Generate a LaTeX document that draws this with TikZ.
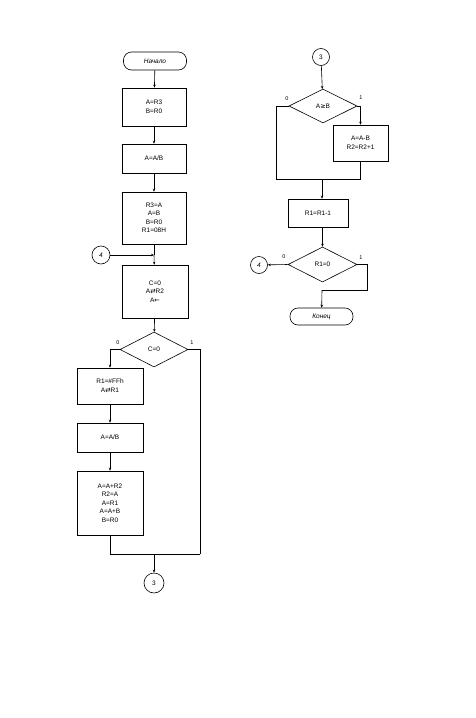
\documentclass[tikz,border=0pt]{standalone}
\usepackage{fontspec}
\setmainfont{Liberation Sans}
\newfontfamily\symf{DejaVu Sans}
\usetikzlibrary{arrows.meta,shapes.geometric}
\begin{document}
\begin{tikzpicture}[x=1pt,y=-1pt,
  every node/.style={font=\fontsize{6.5}{8.5}\selectfont, inner sep=0pt},
  box/.style={draw, line width=0.6pt, align=center},
  term/.style={draw, line width=0.6pt, rounded corners=8pt},
  dec/.style={draw, line width=0.6pt, diamond, aspect=2, align=center},
  conn/.style={draw, line width=0.6pt, circle},
  ln/.style={line width=0.6pt},
  ar/.style={line width=0.6pt, -{Stealth[length=3pt,width=2.5pt]}},
  lab/.style={font=\fontsize{5.5}{6}\selectfont}]
\useasboundingbox (0,0) rectangle (476,718);
% left column
\node[term, minimum width=63pt, minimum height=18pt] (start) at (155,61) {\textit{Начало}};
\node[box, minimum width=64pt, minimum height=38pt] (b1) at (154,107) {A=R3\\B=R0};
\node[box, minimum width=64pt, minimum height=29pt] (b2) at (154,158.5) {A=A/B};
\node[box, minimum width=64pt, minimum height=52pt] (b3) at (154,218) {R3=A\\A=B\\B=R0\\R1=08H};
\node[conn, minimum size=18pt] (c4a) at (101,255) {\textit{4}};
\coordinate (j4) at (154,255);
\node[box, minimum width=66pt, minimum height=53pt] (b4) at (155,291.5) {C=0\\A{\symf ⇄}R2\\A{\symf ←}};
\node[dec, minimum width=68pt, minimum height=35pt] (d1) at (154,349.5) {C=0};
\node[box, minimum width=66pt, minimum height=36pt] (b5) at (110,386) {R1=\#FFh\\A{\symf ⇄}R1};
\node[box, minimum width=66pt, minimum height=29pt] (b6) at (110,437.5) {A=A/B};
\node[box, minimum width=66pt, minimum height=64pt] (b7) at (110,503) {A=A+R2\\R2=A\\A=R1\\A=A+B\\B=R0};
\coordinate (jl) at (110,554);
\coordinate (jr) at (200,554);
\coordinate (jc) at (154,554);
\node[conn, minimum size=20pt] (c3a) at (154,583) {3};
\draw[ar] (start) -- (b1);
\draw[ar] (b1) -- (b2);
\draw[ar] (b2) -- (b3);
\draw[ln] (b3) -- (j4);
\draw[ar] (c4a) -- (j4);
\draw[ar] (j4) -- (b4);
\draw[ar] (b4) -- (d1);
\draw[ar] (d1.west) -| (b5.north);
\node[lab] at (118,343) {0};
\node[lab] at (192,343) {1};
\draw[ar] (b5) -- (b6);
\draw[ar] (b6) -- (b7);
\draw[ln] (b7.south) -- (jl) -- (jr);
\draw[ln] (d1.east) -| (jr);
\draw[ar] (jc) -- (c3a);
% right column
\node[conn, minimum size=17pt] (c3b) at (321,57) {3};
\node[dec, minimum width=68pt, minimum height=34pt] (d2) at (323,106) {A{\symf ≥}B};
\node[box, minimum width=55pt, minimum height=36pt] (b8) at (360.5,143) {A=A-B\\R2=R2+1};
\coordinate (jl2) at (276,179);
\coordinate (jr2) at (360.5,179);
\coordinate (jc2) at (322,179);
\node[box, minimum width=60pt, minimum height=28pt] (b9) at (318,213) {R1=R1-1};
\node[dec, minimum width=69pt, minimum height=35pt] (d3) at (322.5,264.5) {R1=0};
\node[conn, minimum size=17pt] (c4b) at (259,265) {\textit{4}};
\coordinate (jd) at (322,290);
\node[term, minimum width=63pt, minimum height=17pt] (end) at (321.5,316.5) {\textit{Конец}};
\draw[ar] (c3b) -- (d2);
\draw[ar] (d2.east) -| (b8.north);
\node[lab] at (287,99) {0};
\node[lab] at (361,98) {1};
\draw[ln] (d2.west) -| (jl2) -- (jr2);
\draw[ln] (b8.south) -- (jr2);
\draw[ar] (jc2) -- (b9.north -| jc2);
\draw[ar] (b9.south -| d3.north) -- (d3.north);
\draw[ar] (d3.west) -- (c4b);
\node[lab] at (284,257) {0};
\node[lab] at (361,258) {1};
\draw[ln] (d3.east) -| (367,290) -- (jd);
\draw[ar] (jd) -- (end);
\end{tikzpicture}
\end{document}
